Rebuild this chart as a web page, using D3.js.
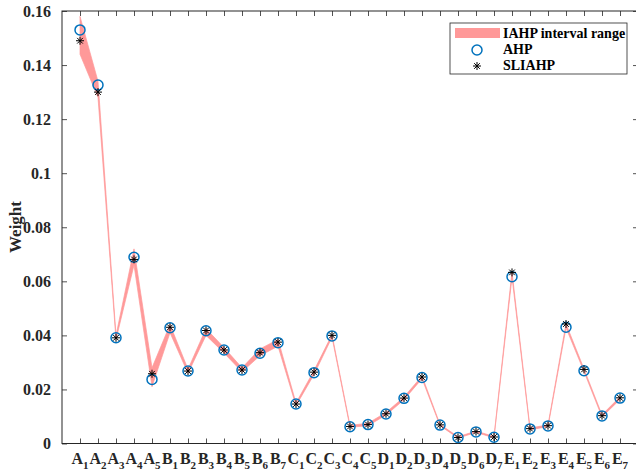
<!DOCTYPE html>
<html>
<head>
<meta charset="utf-8">
<script src="https://cdn.jsdelivr.net/npm/d3@7"></script>
<style>
  body { margin: 0; background: #fff; }
  text { font-family: "Liberation Serif", "Times New Roman", serif; font-weight: bold; }
</style>
</head>
<body>
<script>
// criteria labels (letter + subscript)
var letters = ['A','A','A','A','A','B','B','B','B','B','B','B','C','C','C','C','C',
  'D','D','D','D','D','D','D','E','E','E','E','E','E','E'];
var subs = ['1','2','3','4','5','1','2','3','4','5','6','7','1','2','3','4','5',
  '1','2','3','4','5','6','7','1','2','3','4','5','6','7'];

var ahp = [0.153, 0.1326, 0.0391, 0.0689, 0.0237, 0.0428, 0.0268, 0.0417, 0.0346, 0.0272, 0.0334, 0.0373,
  0.0146, 0.0262, 0.0398, 0.0062, 0.0070, 0.0109, 0.0167, 0.0244, 0.0068, 0.0022, 0.0043, 0.0023,
  0.0617, 0.0054, 0.0065, 0.0430, 0.0269, 0.0102, 0.0168];
var sliahp = [0.149, 0.1300, 0.0391, 0.0681, 0.0258, 0.0430, 0.0268, 0.0418, 0.0346, 0.0272, 0.0336, 0.0375,
  0.0146, 0.0264, 0.0400, 0.0063, 0.0070, 0.0110, 0.0168, 0.0246, 0.0069, 0.0022, 0.0044, 0.0024,
  0.0633, 0.0055, 0.0066, 0.0442, 0.0274, 0.0103, 0.0169];
var lower = [0.144, 0.128, 0.0385, 0.066, 0.021, 0.041, 0.026, 0.040, 0.0335, 0.0265, 0.0325, 0.036,
  0.014, 0.0255, 0.0393, 0.0060, 0.0066, 0.0105, 0.0162, 0.0240, 0.0066, 0.0020, 0.0041, 0.0021,
  0.0615, 0.0051, 0.0062, 0.0428, 0.0266, 0.0098, 0.0163];
var upper = [0.158, 0.134, 0.0400, 0.072, 0.028, 0.044, 0.0275, 0.0425, 0.0355, 0.028, 0.035, 0.0385,
  0.015, 0.027, 0.0403, 0.0067, 0.0075, 0.0115, 0.0172, 0.0250, 0.0071, 0.0025, 0.0046, 0.0026,
  0.0635, 0.0057, 0.0069, 0.0443, 0.0276, 0.0106, 0.0173];
var yTicks = [0, 0.02, 0.04, 0.06, 0.08, 0.1, 0.12, 0.14, 0.16];

var width = 636, height = 475;
var plotLeft = 62, plotRight = 638, plotTop = 11, plotBottom = 443.5;

var svg = d3.select('body').append('svg')
  .attr('width', width)
  .attr('height', height);

var x = d3.scaleLinear().domain([0, letters.length + 1]).range([plotLeft, plotRight]);
var y = d3.scaleLinear().domain([0, 0.16]).range([plotBottom, plotTop]);

var idx = d3.range(letters.length);
var axisColor = '#262626';

// interval band
var band = d3.area()
  .x(function(i) { return x(i + 1); })
  .y0(function(i) { return y(lower[i]); })
  .y1(function(i) { return y(upper[i]); });

svg.append('path')
  .datum(idx)
  .attr('d', band)
  .attr('fill', '#ff9999')
  .attr('stroke', '#ff9999')
  .attr('stroke-width', 0.7);

// axes with inward ticks
var xTickVals = idx.map(function(i) { return i + 1; });
var yLeft = svg.append('g').attr('transform', 'translate(' + plotLeft + ',0)')
  .call(d3.axisRight(y).tickValues(yTicks).tickSize(5).tickFormat(''));
var yRight = svg.append('g').attr('transform', 'translate(' + plotRight + ',0)')
  .call(d3.axisLeft(y).tickValues(yTicks).tickSize(5).tickFormat(''));
var xBottom = svg.append('g').attr('transform', 'translate(0,' + plotBottom + ')')
  .call(d3.axisTop(x).tickValues(xTickVals).tickSize(5).tickFormat(''));
var xTop = svg.append('g').attr('transform', 'translate(0,' + plotTop + ')')
  .call(d3.axisBottom(x).tickValues(xTickVals).tickSize(5).tickFormat(''));

[yLeft, yRight, xBottom, xTop].forEach(function(g) {
  g.selectAll('path').remove();
  g.selectAll('line').attr('stroke', axisColor).attr('stroke-width', 0.8);
});
svg.append('rect')
  .attr('x', plotLeft).attr('y', plotTop)
  .attr('width', plotRight - plotLeft).attr('height', plotBottom - plotTop)
  .attr('fill', 'none').attr('stroke', axisColor).attr('stroke-width', 1);

// y tick labels
svg.selectAll('.ylab').data(yTicks).enter().append('text')
  .attr('class', 'ylab')
  .attr('x', 51)
  .attr('y', function(d) { return y(d) + 5.5; })
  .attr('text-anchor', 'end')
  .attr('font-size', 16)
  .attr('fill', axisColor)
  .text(function(d) { return d === 0 ? '0' : String(d); });

// x tick labels with subscripts
var xl = svg.selectAll('.xlab').data(idx).enter().append('text')
  .attr('class', 'xlab')
  .attr('x', function(i) { return x(i + 1); })
  .attr('y', 464)
  .attr('text-anchor', 'middle')
  .attr('font-size', 16)
  .attr('fill', axisColor);
xl.append('tspan').text(function(i) { return letters[i]; });
xl.append('tspan').attr('dy', 5).attr('font-size', 11).text(function(i) { return subs[i]; });

svg.append('text')
  .attr('transform', 'translate(21,227) rotate(-90)')
  .attr('text-anchor', 'middle')
  .attr('font-size', 17)
  .attr('fill', axisColor)
  .text('Weight');

// markers
var blue = '#0072bd';
svg.selectAll('.ahp').data(idx).enter().append('circle')
  .attr('class', 'ahp')
  .attr('cx', function(i) { return x(i + 1); })
  .attr('cy', function(i) { return y(ahp[i]); })
  .attr('r', 5)
  .attr('fill', 'none')
  .attr('stroke', blue)
  .attr('stroke-width', 1.5);

var star = function(sel, s) {
  var d = s * 0.707;
  sel.append('path')
    .attr('d', 'M' + (-s) + ',0H' + s + 'M0,' + (-s) + 'V' + s +
      'M' + (-d) + ',' + (-d) + 'L' + d + ',' + d + 'M' + (-d) + ',' + d + 'L' + d + ',' + (-d))
    .attr('stroke', '#000')
    .attr('stroke-width', 1)
    .attr('fill', 'none');
};
svg.selectAll('.sli').data(idx).enter().append('g')
  .attr('class', 'sli')
  .attr('transform', function(i) { return 'translate(' + x(i + 1) + ',' + y(sliahp[i]) + ')'; })
  .call(star, 4);

// legend
var lg = svg.append('g');
lg.append('rect')
  .attr('x', 450).attr('y', 23).attr('width', 177).attr('height', 51)
  .attr('fill', '#fff').attr('stroke', axisColor).attr('stroke-width', 0.8);
lg.append('rect')
  .attr('x', 455).attr('y', 28).attr('width', 45).attr('height', 10)
  .attr('fill', '#ff9999');
lg.append('circle')
  .attr('cx', 477).attr('cy', 50).attr('r', 5)
  .attr('fill', 'none').attr('stroke', blue).attr('stroke-width', 1.5);
lg.append('g').attr('transform', 'translate(477,66)').call(star, 4);
var legendText = ['IAHP interval range', 'AHP', 'SLIAHP'];
lg.selectAll('.lt').data(legendText).enter().append('text')
  .attr('class', 'lt')
  .attr('x', 503)
  .attr('y', function(d, i) { return 38 + i * 16; })
  .attr('font-size', 14)
  .attr('fill', '#000')
  .text(function(d) { return d; });
</script>
</body>
</html>
